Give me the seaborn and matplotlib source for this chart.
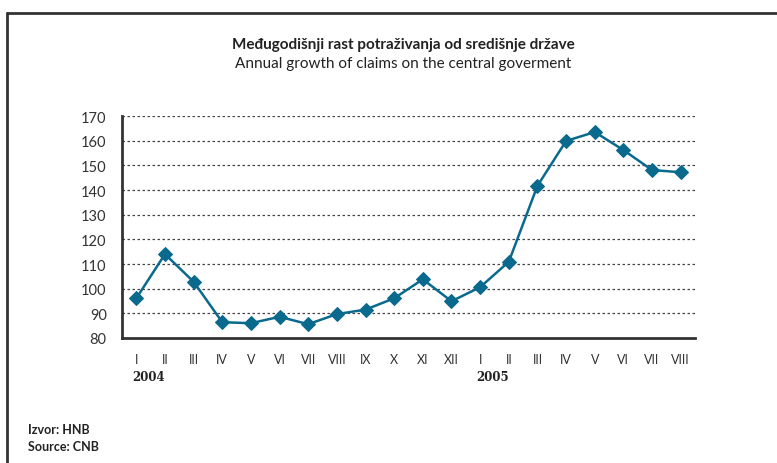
import numpy as np
import pandas as pd
import matplotlib
matplotlib.use("Agg")
import matplotlib.pyplot as plt
import seaborn as sns
from matplotlib.lines import Line2D

# data
months = ['I', 'II', 'III', 'IV', 'V', 'VI', 'VII', 'VIII', 'IX', 'X', 'XI', 'XII',
          'I', 'II', 'III', 'IV', 'V', 'VI', 'VII', 'VIII']
years = ['2004', '2005']
growth = [96.1, 114.0, 102.8, 86.4, 86.0, 88.6, 85.6, 89.7, 91.5, 96.1, 103.8, 94.9,
          100.6, 110.9, 141.7, 159.9, 163.5, 156.2, 148.1, 147.2]
y_ticks = [80, 90, 100, 110, 120, 130, 140, 150, 160, 170]

line_color = '#0a6a8e'
text_color = '#333333'

df = pd.DataFrame({'pos': np.arange(len(months)), 'value': growth})

sns.set_theme(style='white')
plt.rcParams['font.family'] = ['Lato', 'DejaVu Sans']

fig = plt.figure(figsize=(7.77, 4.64), dpi=100)
ax = fig.add_axes([0.157, 0.2694, 0.7375, 0.4784])

sns.lineplot(data=df, x='pos', y='value', ax=ax, color=line_color, linewidth=1.8,
             marker='D', markersize=7, markeredgecolor=line_color, markerfacecolor=line_color)

ax.set_xlim(-0.5, len(months) - 0.5)
ax.set_ylim(80, 170)
ax.set_yticks(y_ticks)
ax.set_yticklabels([str(v) for v in y_ticks], fontsize=10.5, color=text_color)

# month labels at centres, tick marks on boundaries
ax.set_xticks(np.arange(len(months)))
ax.set_xticklabels(months, fontsize=9, color=text_color)
ax.set_xticks(np.arange(len(months) + 1) - 0.5, minor=True)
ax.tick_params(axis='x', which='major', length=0, pad=11)
ax.tick_params(axis='x', which='minor', length=4, width=1, color='#333333', direction='out')
ax.tick_params(axis='y', length=3, width=1, color='#333333', direction='out', pad=8)
ax.set_xlabel('')
ax.set_ylabel('')

for v in y_ticks[1:]:
    ax.axhline(v, color='#444444', linestyle=(0, (2, 2)), linewidth=0.9, zorder=0)

for side in ['top', 'right']:
    ax.spines[side].set_visible(False)
for side in ['left', 'bottom']:
    ax.spines[side].set_color('#333333')
    ax.spines[side].set_linewidth(2)

# year labels under January
trans = ax.get_xaxis_transform()
for i, yr in zip([0, 12], years):
    ax.text(i - 0.15, -0.145, yr, transform=trans, fontsize=8.5, fontweight='bold',
            family='DejaVu Serif', color='#222222', ha='left', va='top')

fig.text(0.519, 0.903, 'Međugodišnji rast potraživanja od središnje države',
         ha='center', va='center', fontsize=11, fontweight='bold', color='#222222')
fig.text(0.519, 0.863, 'Annual growth of claims on the central goverment',
         ha='center', va='center', fontsize=11, color='#222222')

fig.text(0.036, 0.073, 'Izvor: HNB', ha='left', va='center', fontsize=9,
         fontweight='bold', color='#222222')
fig.text(0.036, 0.036, 'Source: CNB', ha='left', va='center', fontsize=9,
         fontweight='bold', color='#222222')

# frame lines (left and top)
fig.add_artist(Line2D([0.009, 0.009], [0.0, 0.97], transform=fig.transFigure,
                      color='#333333', linewidth=2))
fig.add_artist(Line2D([0.009, 1.0], [0.97, 0.97], transform=fig.transFigure,
                      color='#333333', linewidth=2))

fig.savefig('out.png', dpi=100)
